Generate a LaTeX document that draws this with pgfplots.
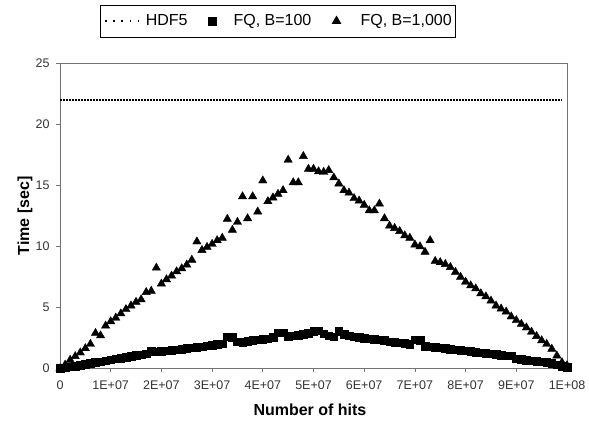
\documentclass[border=0pt]{standalone}
\usepackage{fontspec}
\setmainfont{Liberation Sans}
\usepackage{pgfplots}
\pgfplotsset{compat=1.18}
\usepackage{pgfplotstable}

\pgfplotsset{
  hdfleg/.style={legend image code/.code={\draw[##1, line width=1.5pt, dash pattern=on 1.6pt off 6.6pt] (0pt,0pt) -- (37pt,0pt);}},
  sqleg/.style={legend image code/.code={\path[draw=none] (-4pt,0pt) (18pt,0pt); \draw[##1] plot coordinates {(0pt,0pt)};}},
  trleg/.style={legend image code/.code={\path[draw=none] (-4pt,0pt) (21pt,0pt); \draw[##1] plot coordinates {(0pt,0pt)};}},
}

% x in units of 1E+06 hits
\pgfplotstableread{
x y
0 0
1 0.07
2 0.14
3 0.21
4 0.28
5 0.36
6 0.43
7 0.50
8 0.57
9 0.65
10 0.72
11 0.79
12 0.86
13 0.93
14 1.00
15 1.07
16 1.14
17 1.21
18 1.40
19 1.37
20 1.42
21 1.46
22 1.50
23 1.55
24 1.60
25 1.65
26 1.70
27 1.75
28 1.80
29 1.86
30 1.92
31 1.98
32 2.04
33 2.60
34 2.55
35 2.20
36 2.15
37 2.22
38 2.30
39 2.35
40 2.40
41 2.45
42 2.55
43 2.95
44 2.95
45 2.65
46 2.70
47 2.75
48 2.80
49 2.90
50 3.05
51 3.10
52 2.85
53 2.70
54 2.60
55 3.05
56 2.80
57 2.70
58 2.60
59 2.55
60 2.50
61 2.45
62 2.40
63 2.35
64 2.30
65 2.20
66 2.15
67 2.10
68 2.05
69 2.00
70 2.35
71 2.30
72 1.85
73 1.80
74 1.75
75 1.70
76 1.65
77 1.60
78 1.55
79 1.50
80 1.45
81 1.40
82 1.35
83 1.30
84 1.25
85 1.20
86 1.15
87 1.10
88 1.05
89 1.05
90 0.80
91 0.75
92 0.70
93 0.65
94 0.60
95 0.55
96 0.50
97 0.45
98 0.30
99 0.20
100 0.10
}\fqhundred

\pgfplotstableread{
x y
0 0
1 0.30
2 0.70
3 1.00
4 1.30
5 1.65
6 2.00
7 2.90
8 2.70
9 3.50
10 3.85
11 4.15
12 4.50
13 4.85
14 5.15
15 5.45
16 5.65
17 6.25
18 6.35
19 8.25
20 6.95
21 7.30
22 7.60
23 7.95
24 8.20
25 8.50
26 8.90
27 10.40
28 9.70
29 9.95
30 10.20
31 10.50
32 10.70
33 12.25
34 11.35
35 12.00
36 14.10
37 12.30
38 14.10
39 12.85
40 15.40
41 13.70
42 14.00
43 14.30
44 14.60
45 17.10
46 15.25
47 15.25
48 17.40
49 16.35
50 16.35
51 16.15
52 16.10
53 16.25
54 15.65
55 15.15
56 14.60
57 14.40
58 13.95
59 13.75
60 13.40
61 12.95
62 12.95
63 13.50
64 12.30
65 11.70
66 11.50
67 11.25
68 10.90
69 10.70
70 10.15
71 10.00
72 9.55
73 10.50
74 8.80
75 8.70
76 8.55
77 8.30
78 7.90
79 7.50
80 7.10
81 6.80
82 6.55
83 6.15
84 5.90
85 5.55
86 5.15
87 4.90
88 4.65
89 4.25
90 3.95
91 3.65
92 3.35
93 3.00
94 2.65
95 2.30
96 2.00
97 1.60
98 1.05
99 0.50
100 0.25
}\fqthousand

\begin{document}
\begin{tikzpicture}
\path[use as bounding box] (0pt,0pt) rectangle (589pt,431pt);
\begin{axis}[
  at={(60pt,62.5pt)}, anchor=south west,
  scale only axis, width=507pt, height=305pt,
  xmin=0, xmax=100, ymin=0, ymax=25,
  clip=false,
  axis line style={black!55, line width=0.8pt},
  xtick={0,10,...,100},
  xticklabels={0,1E+07,2E+07,3E+07,4E+07,5E+07,6E+07,7E+07,8E+07,9E+07,1E+08},
  ytick={0,5,...,25},
  yticklabels={0,5,10,15,20,25},
  tick align=outside, major tick length=4pt,
  tick style={black!55, line width=0.8pt},
  xtick pos=bottom, ytick pos=left,
  ticklabel style={font=\fontsize{12.5}{14}\selectfont, text=black!80},
  xticklabel style={yshift=-5pt},
  yticklabel style={xshift=-3pt},
  xlabel={Number of hits}, ylabel={Time [sec]},
  label style={font=\bfseries\fontsize{16}{19}\selectfont},
  xlabel style={at={(axis description cs:0.493,-0.136)}, anchor=center},
  ylabel style={at={(axis description cs:-0.069,0.5)}, anchor=center},
  legend columns=3,
  legend style={draw=black, line width=0.8pt,
    at={(axis description cs:0.430,1.139)}, anchor=center,
    inner xsep=4pt, inner ysep=8.5pt,
    font=\fontsize{16}{19}\selectfont,
    nodes={inner sep=0pt, text height=11.5pt, text depth=3.5pt},
    /tikz/every odd column/.append style={column sep=3pt},
    /tikz/every even column/.append style={column sep=21pt}},
]
\addplot[black, line width=1.6pt, dash pattern=on 2pt off 1pt, hdfleg]
  coordinates {(0,22) (99,22)};
\addlegendentry{HDF5}
\addplot[only marks, mark=square*, mark size=3.8pt, black, sqleg]
  table[x=x,y=y] {\fqhundred};
\addlegendentry{FQ, B=100}
\addplot[only marks, mark=triangle*, mark size=4.8pt, black, trleg]
  table[x=x,y=y] {\fqthousand};
\addlegendentry{FQ, B=1,000}
\end{axis}
\end{tikzpicture}
\end{document}
